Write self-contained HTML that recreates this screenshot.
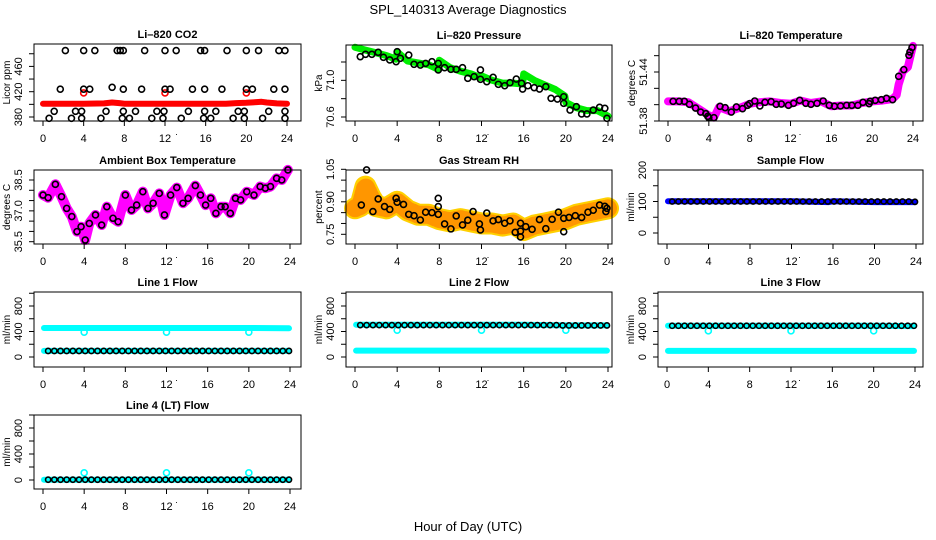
<!DOCTYPE html>
<html><head><meta charset="utf-8"><style>
html,body{margin:0;padding:0;background:#fff;}
svg{display:block;font-family:"Liberation Sans",sans-serif;}
</style></head><body>
<svg id="chart" width="936" height="540" viewBox="0 0 936 540">
<text x="468" y="14" text-anchor="middle" font-size="13">SPL_140313  Average Diagnostics</text>
<text x="468" y="531" text-anchor="middle" font-size="13">Hour of Day (UTC)</text>
</svg>
<script>
// ---- data ----
const xTicks = [0,4,8,12,16,20,24];
// CO2
const co2BandHours = [0,2,4,6,6.8,7.5,8,12,16,18,19,20,21,21.5,22,23,24];
const co2BandVals  = [401,401,401,401.5,403,402,401,401,401,401,402,402.5,403.5,404,403,401.5,401];
const co2RedPtHours = [4,12,20];
const co2RedPtVals = [418,418,418];
const co2PtHours = [2.2,4,5.1,7.3,7.6,7.9,10,12,13.1,15.5,15.9,18.1,20,21.2,23.2,23.8,
 1.7,4,4.6,6.8,7.9,9.7,12,12.5,14.7,15.9,17.6,20,20.6,22.7,23.8,
 1.1,3.2,3.8,6.2,7.9,9.1,11.2,11.9,14.3,15.9,17,19.2,19.8,22.2,23.8,
 0.6,2.8,3.8,5.7,7.8,8.5,10.7,11.8,13.6,15.8,16.5,18.7,19.8,21.6,23.8];
const co2PtVals = [485,485,485,485,485,485,485,485,485,485,485,485,485,485,485,485,
 424,424,424,427,424,424,424,424,424,424,424,424,424,424,424,
 389,389,389,389,389,389,389,389,389,389,389,389,389,389,389,
 378,378,378,378,378,378,378,378,378,378,378,378,378,378,378];
// Pressure
const presBandHours = [0,1,2,3,3.9,4,5,6,7,7.9,8,9,10,11,11.9,12,13,14,15,15.9,16,17,18,19,19.9,20,21,22,23,24];
const presBandVals = [71.36,71.33,71.3,71.27,71.23,71.31,71.21,71.19,71.17,71.12,71.22,71.14,71.1,71.07,71.03,71.05,71.0,70.97,70.97,70.96,71.07,71.0,70.95,70.9,70.83,70.76,70.7,70.67,70.67,70.61];
const presPtHours = [0.5,1,1.6,2.2,2.7,3.3,3.9,4,4.3,5.1,5.6,6.2,6.7,7.3,7.9,7.9,8.5,9.1,9.6,10.2,10.7,11.3,11.9,11.9,12.5,13.1,13.6,14.2,14.7,15.3,15.8,15.9,16.4,17,17.5,18.1,18.6,19.2,19.8,19.8,20.4,21,21.5,22,22.6,23.2,23.7,23.9];
const presPtVals = [71.258,71.284,71.284,71.306,71.251,71.222,71.203,71.312,71.240,71.276,71.175,71.167,71.185,71.203,71.113,71.185,71.138,71.120,71.120,71.138,71.022,71.040,71.011,71.113,70.985,71.033,70.956,70.941,70.974,71.014,70.967,70.905,70.941,70.920,70.905,70.931,70.804,70.796,70.821,70.749,70.676,70.712,70.633,70.633,70.676,70.706,70.695,70.586];
// Li-820 temperature
const tempBandHours = [0,1,2,3,4,4.5,5,6,7,8,9,10,11,12,13,14,15,16,17,18,19,20,21,22,22.4,22.6,23,23.5,23.8,24];
const tempBandVals = [51.404,51.404,51.403,51.395,51.387,51.384,51.397,51.392,51.396,51.401,51.403,51.404,51.402,51.401,51.405,51.402,51.404,51.398,51.399,51.399,51.402,51.404,51.405,51.407,51.412,51.425,51.441,51.446,51.462,51.472];
const tempPtHours = [0.5,1.1,1.6,2.1,2.7,3.2,3.7,3.9,4,4.5,5.1,5.6,6.2,6.7,7.3,7.8,8,8.5,9,9.5,10.1,10.6,11.1,11.8,12.3,12.9,13.5,14,14.6,15.2,15.8,16.3,16.9,17.5,18,18.6,19.1,19.7,19.8,20.3,20.9,21.4,22,22.6,23.1,23.6,23.7,23.9];
const tempPtVals = [51.4041,51.4041,51.4041,51.4004,51.3959,51.3910,51.3890,51.3857,51.3841,51.3841,51.3980,51.3963,51.3910,51.3972,51.3951,51.3992,51.4012,51.4045,51.3984,51.4029,51.4037,51.4004,51.4008,51.3992,51.4017,51.4053,51.4017,51.4004,51.4017,51.4045,51.3992,51.3980,51.3984,51.3992,51.3992,51.3992,51.4029,51.4012,51.4041,51.4053,51.4061,51.4078,51.4061,51.4347,51.4429,51.4605,51.4646,51.4699];
// Ambient box temperature
const ambHours = [0,0.5,1.2,1.8,2.3,2.8,3.3,3.7,4.1,4.5,5.1,5.7,6.2,6.8,7.3,8,8.6,9.1,9.7,10.2,10.7,11.3,11.8,12.4,13,13.6,14.1,14.8,15.3,15.8,16.3,16.8,17.3,17.7,18.2,18.7,19.2,19.8,20.5,21.1,21.6,22.1,22.7,23.2,23.8];
const ambVals = [37.77,37.64,38.29,37.69,37.12,36.72,35.99,36.23,35.58,36.39,36.8,36.31,37.2,36.64,36.47,37.77,37.04,37.28,37.93,37.12,37.37,37.85,36.8,37.77,38.13,37.37,37.61,38.23,37.77,37.28,37.61,36.88,37.2,37.2,36.88,37.61,37.53,37.93,37.77,38.18,38.1,38.18,38.58,38.5,38.99];
// Gas stream RH
const rhBandHours = [0,0.5,1,1.5,2,3,4,5,6,7,8,9,10,11,12,13,14,15,16,17,18,19,20,21,22,23,24];
const rhBandVals = [0.87,0.88,0.97,0.92,0.88,0.87,0.9,0.86,0.84,0.84,0.82,0.81,0.82,0.81,0.8,0.8,0.79,0.8,0.77,0.79,0.8,0.81,0.82,0.84,0.85,0.86,0.87];
const rhPtHours = [0.6,1.1,1.7,2.2,2.8,3.3,3.9,4,4.6,5.1,5.6,6.2,6.7,7.3,7.9,7.9,7.9,8.5,9.1,9.6,10.2,10.7,11.2,11.8,11.9,12.5,13.1,13.6,14.2,14.7,15.2,15.7,15.7,15.7,16.2,16.8,17.5,18.1,18.7,19.3,19.8,19.8,20.3,20.9,21.5,22.1,22.6,23.2,23.7,23.8,23.9];
const rhPtVals = [0.885,1.047,0.855,0.913,0.878,0.865,0.916,0.898,0.888,0.842,0.836,0.816,0.852,0.85,0.842,0.916,0.878,0.798,0.775,0.835,0.793,0.815,0.855,0.798,0.77,0.848,0.812,0.818,0.801,0.812,0.759,0.738,0.765,0.801,0.785,0.773,0.818,0.776,0.819,0.852,0.762,0.824,0.828,0.836,0.828,0.852,0.861,0.885,0.879,0.855,0.87];
// Flows
const flowBandHours = [0.1,4,8,12,15.6,16,20,23.9];
const sampleBandVals = [101,101,101,101,98,101,98,98];
const flowPtHours = [0.5,1.1,1.7,2.3,2.9,3.5,4.1,4.7,5.3,5.9,6.5,7.1,7.7,8.3,8.9,9.5,10.1,10.7,11.3,11.9,12.5,13.1,13.7,14.3,14.9,15.5,16.1,16.7,17.3,17.9,18.5,19.1,19.7,20.3,20.9,21.5,22.1,22.7,23.3,23.9];
const samplePtVals = [100,100,100,100,100,100,100,100,100,100,100,100,100,100,100,100,100,100,100,100,100,100,100,100,100,100,100,100,100,100,100,100,100,100,100,100,100,100,100,99];
const line1HighBand = [455,455,455,455,455,455,455,450];
const line1LowBand = [95,95,95,95,95,95,95,95];
const line1PtVals = [95,95,95,95,95,95,95,95,95,95,95,95,95,95,95,95,95,95,95,95,95,95,95,95,95,95,95,95,95,95,95,95,95,95,95,95,95,95,95,95];
const line2HighBand = [505,505,505,505,505,505,495,495];
const line2LowBand = [100,100,100,100,100,100,100,100];
const line2PtVals = [500,500,500,500,500,500,500,500,500,500,500,500,500,500,500,500,500,500,500,500,500,500,500,500,500,500,500,500,500,500,500,500,495,495,495,495,495,495,495,495];
const line3HighBand = [490,490,490,490,490,490,490,485];
const line3LowBand = [95,95,95,95,95,95,95,95];
const line3PtVals = [490,490,490,490,490,490,490,490,490,490,490,490,490,490,490,490,490,490,490,490,490,490,490,490,490,490,490,490,490,490,490,490,490,490,490,490,490,490,490,490];
const line4Band = [5,5,5,5,5,5,5,5];
const line4PtVals = [5,5,5,5,5,5,5,5,5,5,5,5,5,5,5,5,5,5,5,5,5,5,5,5,5,5,5,5,5,5,5,5,5,5,5,5,5,5,5,5];
const dipHours = [4,12,20];
const line1DipVals = [390,390,390];
const line2DipVals = [420,420,420];
const line3DipVals = [410,410,410];
const line4DipVals = [110,110,110];

// ---- drawing ----
const NS = "http://www.w3.org/2000/svg";
const svg = document.getElementById("chart");
function mk(tag, attrs, parent){ const e=document.createElementNS(NS,tag); for(const k in attrs) e.setAttribute(k,attrs[k]); (parent||svg).appendChild(e); return e; }

function panel(c){
  const g = mk("g",{});
  
  
  const [L,T,R,B] = c.box;
  const xs = h => c.x0 + (h/24)*(c.x24 - c.x0);
  const ys = v => c.yA + (v - c.vA)*(c.yB - c.yA)/(c.vB - c.vA);
  c.draw(g, xs, ys);
  const box = mk("rect",{x:L,y:T,width:R-L,height:B-T,fill:"none",stroke:"#000","stroke-width":1},g);
  
  
  const xa = mk("g",{},g);
  
  
  mk("line",{x1:xs(0),x2:xs(24),y1:B,y2:B,stroke:"#000"},xa);
  xTicks.forEach(t=>{
    mk("line",{x1:xs(t),x2:xs(t),y1:B,y2:B+5,stroke:"#000"},xa);
    const tx = mk("text",{x:xs(t),y:B+21,"text-anchor":"middle","font-size":11},xa);
    tx.textContent = t;
    
    
  });
  const dot = mk("text",{x:(L+R)/2+9,y:B+14,"text-anchor":"middle","font-size":9},g); dot.textContent=".";
  const ya = mk("g",{},g);
  
  
  mk("line",{x1:L,x2:L,y1:ys(c.yTicks[0]),y2:ys(c.yTicks[c.yTicks.length-1]),stroke:"#000"},ya);
  c.yTicks.forEach(t=>{
    mk("line",{x1:L-5,x2:L,y1:ys(t),y2:ys(t),stroke:"#000"},ya);
  });
  c.yLabels.forEach(t=>{
    const y = ys(Number(t)), x = L-12;
    const tx = mk("text",{x:x,y:y,"text-anchor":"middle","font-size":11,transform:`rotate(-90 ${x} ${y})`},ya);
    tx.textContent = t;
    
    
  });
  const yt = mk("text",{x:L-24,y:(T+B)/2,"text-anchor":"middle","font-size":10,transform:`rotate(-90 ${L-24} ${(T+B)/2})`},g);
  yt.textContent = c.ylab;
  
  
  const ti = mk("text",{x:(L+R)/2,y:T-6,"text-anchor":"middle","font-size":11,"font-weight":"bold"},g);
  ti.textContent = c.title;
  
  
}
function band(g, xs, ys, hours, vals, color, w, name){
  const pts = hours.map((h,i)=> xs(h).toFixed(1)+","+ys(vals[i]).toFixed(1)).join(" ");
  const p = mk("polyline",{points:pts,fill:"none",stroke:color,"stroke-width":w,"stroke-linejoin":"round","stroke-linecap":"round"},g);
  
  
  return p;
}
function circles(g, xs, ys, hours, vals, color, name, r){
  hours.forEach((h,i)=>{
    const c = mk("circle",{cx:xs(h),cy:ys(vals[i]),r:r||3,fill:"none",stroke:color,"stroke-width":1.6},g);
    
    
  });
}
const CY="#00ffff";
// Row 1
panel({name:"co2",title:"Li–820 CO2",ylab:"Licor ppm",box:[34,44,301,121],x0:43,x24:287,vA:380,yA:117,vB:460,yB:66.4,
  yTicks:[380,400,420,440,460,480],yLabels:["380","420","460"],
  draw:(g,xs,ys)=>{ band(g,xs,ys,co2BandHours,co2BandVals,"#ff0000",6,"co2-band");
    circles(g,xs,ys,co2RedPtHours,co2RedPtVals,"#ff0000","co2-red-point");
    circles(g,xs,ys,co2PtHours,co2PtVals,"#000","co2-point"); }});
panel({name:"pressure",title:"Li–820 Pressure",ylab:"kPa",box:[346,45,612,121],x0:355,x24:608,vA:70.6,yA:117,vB:71.2,yB:62,
  yTicks:[70.6,70.8,71.0,71.2],yLabels:["70.6","71.0"],
  draw:(g,xs,ys)=>{ band(g,xs,ys,presBandHours,presBandVals,"#00ee00",7,"pressure-band");
    circles(g,xs,ys,presPtHours,presPtVals,"#000","pressure-point"); }});
panel({name:"li820-temp",title:"Li–820 Temperature",ylab:"degrees C",box:[659,45,923,121],x0:668,x24:913,vA:51.38,yA:121,vB:51.44,yB:72,
  yTicks:[51.38,51.40,51.42,51.44,51.46],yLabels:["51.38","51.44"],
  draw:(g,xs,ys)=>{ band(g,xs,ys,tempBandHours,tempBandVals,"#ff00ff",8,"li820-temp-band");
    circles(g,xs,ys,tempPtHours,tempPtVals,"#000","li820-temp-point"); }});
// Row 2
panel({name:"ambient-temp",title:"Ambient Box Temperature",ylab:"degrees C",box:[34,170,301,244],x0:43,x24:290,vA:35.5,yA:241.7,vB:38.5,yB:180,
  yTicks:[35.5,36,36.5,37,37.5,38,38.5],yLabels:["35.5","37.0","38.5"],
  draw:(g,xs,ys)=>{ band(g,xs,ys,ambHours,ambVals,"#ff00ff",10,"ambient-temp-band");
    circles(g,xs,ys,ambHours,ambVals,"#000","ambient-temp-point"); }});
panel({name:"rh",title:"Gas Stream RH",ylab:"percent",box:[346,170,612,244],x0:355,x24:608,vA:0.75,yA:234.3,vB:1.05,yB:169.3,
  yTicks:[0.75,0.80,0.85,0.90,0.95,1.00,1.05],yLabels:["0.75","0.90","1.05"],
  draw:(g,xs,ys)=>{ band(g,xs,ys,rhBandHours,rhBandVals,"#ffd000",22,"rh-band");
    const d = band(g,xs,ys,rhBandHours,rhBandVals,"#ff5000",18,"rh-band-texture"); d.setAttribute("stroke-dasharray","1.5 3"); d.setAttribute("opacity","0.45");
    circles(g,xs,ys,rhPtHours,rhPtVals,"#000","rh-point"); }});
panel({name:"sample-flow",title:"Sample Flow",ylab:"ml/min",box:[658,170,923,244],x0:667,x24:916,vA:0,yA:233,vB:200,yB:170,
  yTicks:[0,50,100,150,200],yLabels:["0","100","200"],
  draw:(g,xs,ys)=>{ band(g,xs,ys,flowBandHours,sampleBandVals,"#0000ff",6,"sample-flow-band");
    circles(g,xs,ys,flowPtHours,samplePtVals,"#000","sample-flow-point",2.6); }});
// Row 3
const fy = {vA:0,vB:800,yTicks:[0,200,400,600,800,1000],yLabels:["0","400","800"],ylab:"ml/min"};
panel(Object.assign({},fy,{name:"line1-flow",title:"Line 1 Flow",box:[34,292,301,367],x0:43,x24:290,yA:357,yB:306,
  draw:(g,xs,ys)=>{ band(g,xs,ys,flowBandHours,line1HighBand,CY,6,"line1-high-band");
    band(g,xs,ys,flowBandHours,line1LowBand,CY,6,"line1-low-band");
    circles(g,xs,ys,dipHours,line1DipVals,CY,"line1-dip-point");
    circles(g,xs,ys,flowPtHours,line1PtVals,"#000","line1-point",2.6); }}));
panel(Object.assign({},fy,{name:"line2-flow",title:"Line 2 Flow",box:[346,292,612,367],x0:355,x24:608,yA:357,yB:306,
  draw:(g,xs,ys)=>{ band(g,xs,ys,flowBandHours,line2HighBand,CY,6,"line2-high-band");
    band(g,xs,ys,flowBandHours,line2LowBand,CY,6,"line2-low-band");
    circles(g,xs,ys,dipHours,line2DipVals,CY,"line2-dip-point");
    circles(g,xs,ys,flowPtHours,line2PtVals,"#000","line2-point",2.6); }}));
panel(Object.assign({},fy,{name:"line3-flow",title:"Line 3 Flow",box:[658,292,923,367],x0:667,x24:915,yA:357,yB:306,
  draw:(g,xs,ys)=>{ band(g,xs,ys,flowBandHours,line3HighBand,CY,6,"line3-high-band");
    band(g,xs,ys,flowBandHours,line3LowBand,CY,6,"line3-low-band");
    circles(g,xs,ys,dipHours,line3DipVals,CY,"line3-dip-point");
    circles(g,xs,ys,flowPtHours,line3PtVals,"#000","line3-point",2.6); }}));
// Row 4
panel(Object.assign({},fy,{name:"line4-flow",title:"Line 4 (LT) Flow",box:[34,415,301,489],x0:43,x24:290,yA:480,yB:428,
  draw:(g,xs,ys)=>{ band(g,xs,ys,flowBandHours,line4Band,CY,6,"line4-band");
    circles(g,xs,ys,dipHours,line4DipVals,CY,"line4-dip-point");
    circles(g,xs,ys,flowPtHours,line4PtVals,"#000","line4-point",2.6); }}));
</script>
</body></html>
